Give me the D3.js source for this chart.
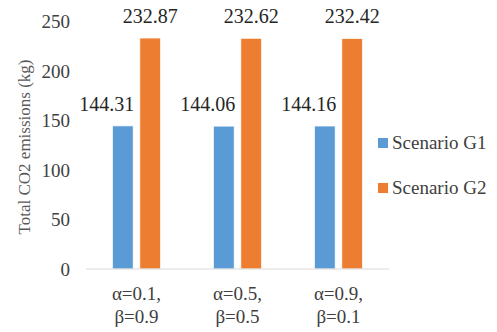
<!DOCTYPE html>
<html>
<head>
<meta charset="utf-8">
<script src="https://cdn.jsdelivr.net/npm/d3@7"></script>
</head>
<body style="margin:0; background:#ffffff">
<svg id="chart" width="497" height="332" style="display:block"></svg>
<script>
// Categories (two-line labels) and series values
const categories = [["α=0.1,", "β=0.9"], ["α=0.5,", "β=0.5"], ["α=0.9,", "β=0.1"]];
const seriesNames = ["Scenario G1", "Scenario G2"];
const scenarioG1 = [144.31, 144.06, 144.16];
const scenarioG2 = [232.87, 232.62, 232.42];
const yTicks = [0, 50, 100, 150, 200, 250];
const colors = ["#5B9BD5", "#ED7D31"];

const FONT = "Liberation Serif";

const svg = d3.select("#chart").attr("font-family", FONT);
const plot = { left: 86, right: 389, top: 21, bottom: 269 };

const x0 = d3.scaleBand()
  .domain(d3.range(categories.length))
  .range([plot.left, plot.right])
  .paddingInner(0).paddingOuter(0);

const x1 = d3.scaleBand()
  .domain(d3.range(seriesNames.length))
  .range([0, x0.bandwidth()])
  .paddingInner(0.24).paddingOuter(0.96);

const y = d3.scaleLinear().domain([0, 250]).range([plot.bottom, plot.top]);

// Y axis tick labels
const yAxis = d3.axisLeft(y).tickValues(yTicks).tickSize(0).tickPadding(0);
const yg = svg.append("g").attr("transform", `translate(70,0)`).call(yAxis)
  .attr("font-family", FONT).attr("font-size", 19);
yg.select(".domain").remove();
yg.selectAll("text")
  .attr("fill", "#404040")
  .attr("dy", "0.34em");

// Y axis title
svg.append("text")
  .attr("transform", `translate(30,${(plot.top + plot.bottom) / 2 + 2}) rotate(-90)`)
  .attr("text-anchor", "middle")
  .attr("font-size", 17)
  .attr("fill", "#595959")
  .text("Total CO2 emissions (kg)");

const series = [scenarioG1, scenarioG2];

// Bars
const groups = svg.append("g").selectAll("g")
  .data(categories.map((c, i) => i))
  .join("g")
  .attr("transform", i => `translate(${x0(i)},0)`);

groups.selectAll("rect")
  .data(i => series.map((s, k) => ({ k, v: s[i] })))
  .join("rect")
  .attr("x", d => x1(d.k))
  .attr("y", d => y(d.v))
  .attr("width", x1.bandwidth())
  .attr("height", d => y(0) - y(d.v))
  .attr("fill", d => colors[d.k])
  .attr("stroke", "#ffffff")
  .attr("stroke-width", 0.8);

// Value labels: Scenario G1 labels end at the bar's right edge
groups.selectAll("text.val")
  .data(i => series.map((s, k) => ({ k, v: s[i] })))
  .join("text")
  .attr("class", "val")
  .attr("x", d => d.k === 0 ? x1(d.k) + x1.bandwidth() + 1 : x1(d.k) + x1.bandwidth() / 2)
  .attr("y", d => y(d.v) - 15)
  .attr("text-anchor", d => d.k === 0 ? "end" : "middle")
  .attr("font-size", 20)
  .attr("fill", "#262626")
  .text(d => d.v.toFixed(2));

// X axis baseline
svg.append("line")
  .attr("x1", plot.left).attr("x2", plot.right)
  .attr("y1", y(0)).attr("y2", y(0))
  .attr("stroke", "#d9d9d9").attr("stroke-width", 1.2);

// Category labels
const xl = svg.append("g").selectAll("text")
  .data(categories.map((c, i) => ({ c, i })))
  .join("text")
  .attr("text-anchor", "middle")
  .attr("font-size", 19)
  .attr("fill", "#404040");
xl.selectAll("tspan")
  .data(d => d.c.map((line, j) => ({ line, j, i: d.i })))
  .join("tspan")
  .attr("x", d => x0(d.i) + x0.bandwidth() / 2)
  .attr("y", d => 300 + d.j * 23)
  .text(d => d.line);

// Legend
const legend = svg.append("g").selectAll("g")
  .data(seriesNames.map((n, k) => ({ n, k })))
  .join("g")
  .attr("transform", d => `translate(378,${143 + d.k * 45})`);
legend.append("rect")
  .attr("x", 0).attr("y", -5).attr("width", 10).attr("height", 10)
  .attr("fill", d => colors[d.k]);
legend.append("text")
  .attr("x", 14).attr("dy", "0.34em")
  .attr("font-size", 19)
  .attr("fill", "#404040")
  .text(d => d.n);
</script>
</body>
</html>
